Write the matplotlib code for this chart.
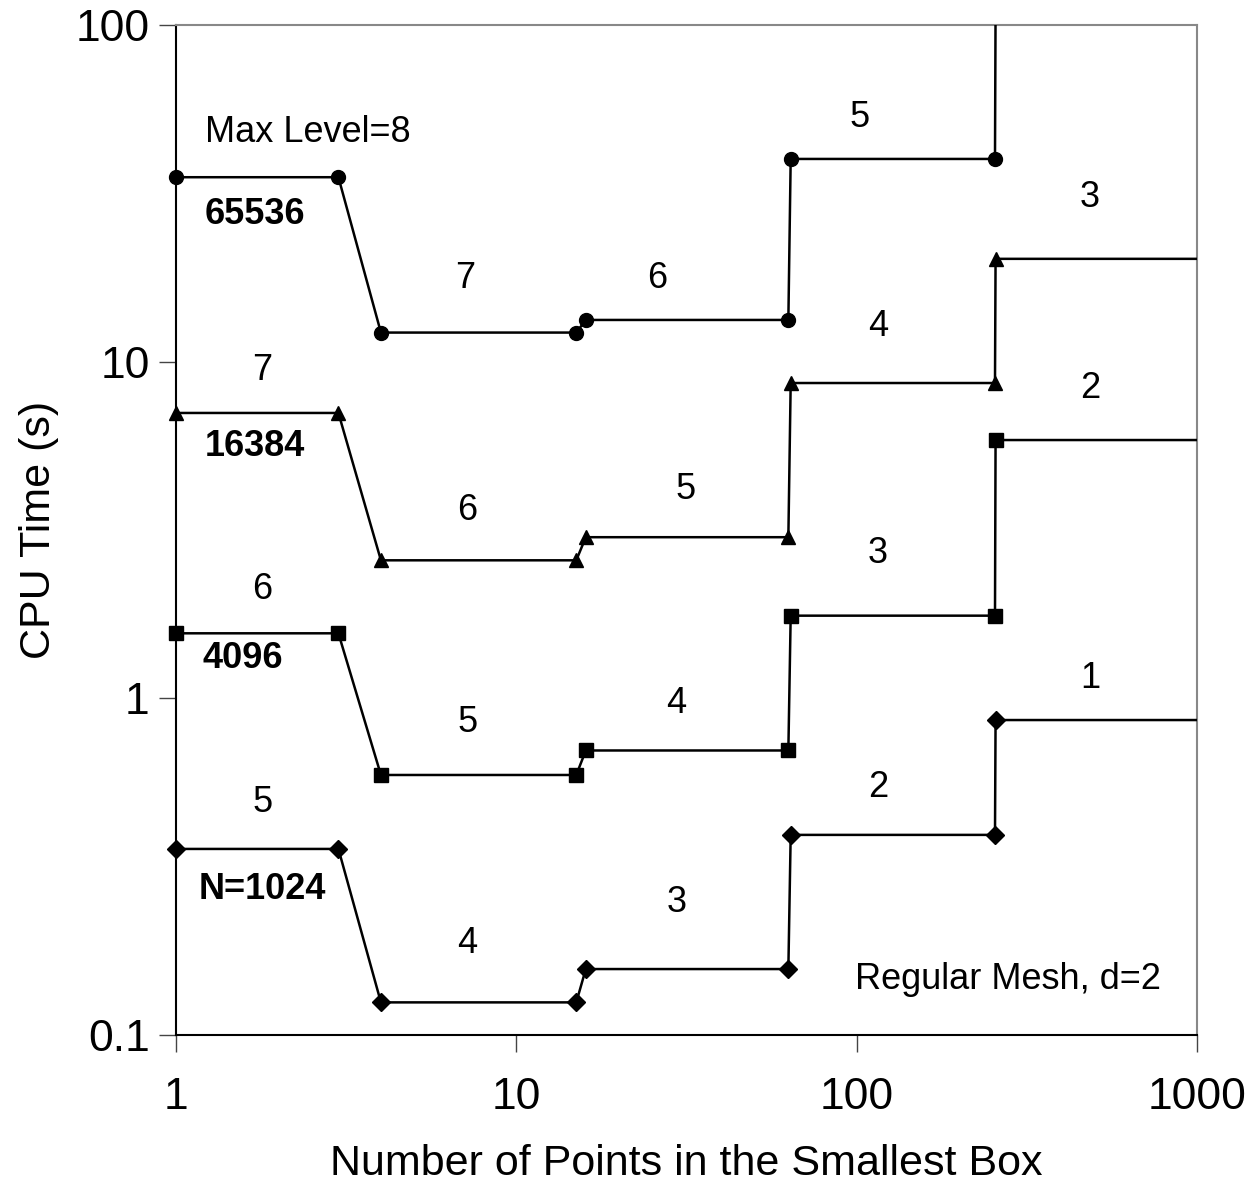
import matplotlib.pyplot as plt
import numpy as np

plt.rcParams['font.family'] = ['Liberation Sans', 'DejaVu Sans']

# box sizes (points in the smallest box)
box_pts = [1, 3, 4, 15, 16, 63, 64, 255, 256, 1000]

# CPU time (s) for each problem size
t_1024 = [0.357, 0.357, 0.125, 0.125, 0.157, 0.157, 0.393, 0.393, 0.862, 0.862]
t_4096 = [1.56, 1.56, 0.592, 0.592, 0.70, 0.70, 1.76, 1.76, 5.85, 5.85]
t_16384 = [7.04, 7.04, 2.57, 2.57, 3.01, 3.01, 8.64, 8.64, 20.2, 20.2]
t_65536 = [35.3, 35.3, 12.2, 12.2, 13.3, 13.3, 40.0, 40.0, 110.0, 110.0]

series = [
    (t_1024, 'D', 9),
    (t_4096, 's', 10),
    (t_16384, '^', 10),
    (t_65536, 'o', 10),
]

# level labels: (text, x, y)
level_labels = [
    ('7', 7.07, 17.7), ('6', 25.9, 17.7), ('5', 102, 53.2),
    ('7', 1.79, 9.44), ('6', 7.17, 3.62), ('5', 31.5, 4.16), ('4', 115.6, 12.7), ('3', 485, 30.8),
    ('6', 1.79, 2.10), ('5', 7.21, 0.850), ('4', 29.5, 0.968), ('3', 115.6, 2.70), ('2', 485, 8.35),
    ('5', 1.79, 0.489), ('4', 7.17, 0.1876), ('3', 29.5, 0.248), ('2', 115.6, 0.545), ('1', 485, 1.149),
]
size_labels = [
    ('65536', 1.707, 27.3), ('16384', 1.707, 5.58),
    ('4096', 1.573, 1.317), ('N=1024', 1.79, 0.2696),
]

fig = plt.figure(figsize=(12.45, 11.83), dpi=100)
ax = fig.add_axes([0.1414, 0.1251, 0.82, 0.8538])

xs = np.array(box_pts)
for vals, mk, ms in series:
    ys = np.array(vals)
    ax.plot(xs, ys, color='black', lw=1.8, zorder=3)
    keep = (np.arange(len(xs)) < len(xs) - 1) & (ys <= 100)
    ax.plot(xs[keep], ys[keep], linestyle='none', marker=mk, ms=ms,
            color='black', clip_on=False, zorder=4)

ax.set_xscale('log')
ax.set_yscale('log')
ax.set_xlim(1, 1000)
ax.set_ylim(0.1, 100)
ax.set_xticks([1, 10, 100, 1000])
ax.set_xticklabels(['1', '10', '100', '1000'])
ax.set_yticks([0.1, 1, 10, 100])
ax.set_yticklabels(['0.1', '1', '10', '100'])
ax.minorticks_off()
ax.tick_params(axis='x', length=12, width=1, labelsize=32, pad=18, color='#444444')
ax.tick_params(axis='y', length=12, width=1, labelsize=32, pad=7, color='#444444')

for s in ['top', 'right']:
    ax.spines[s].set_color('#888888')
    ax.spines[s].set_linewidth(1.5)
for s in ['left', 'bottom']:
    ax.spines[s].set_color('black')
    ax.spines[s].set_linewidth(1.5)

ax.set_xlabel('Number of Points in the Smallest Box', fontsize=31, labelpad=19)
ax.set_ylabel('CPU Time (s)', fontsize=31, labelpad=12)

for txt, x, y in level_labels:
    ax.text(x, y, txt, fontsize=26, ha='center', va='center')
for txt, x, y in size_labels:
    ax.text(x, y, txt, fontsize=26, fontweight='bold', ha='center', va='center')
ax.text(1.217, 47.8, 'Max Level=8', fontsize=26, ha='left', va='center')
ax.text(278.6, 0.1457, 'Regular Mesh, d=2', fontsize=26, ha='center', va='center')

fig.savefig('out.png', dpi=100)
